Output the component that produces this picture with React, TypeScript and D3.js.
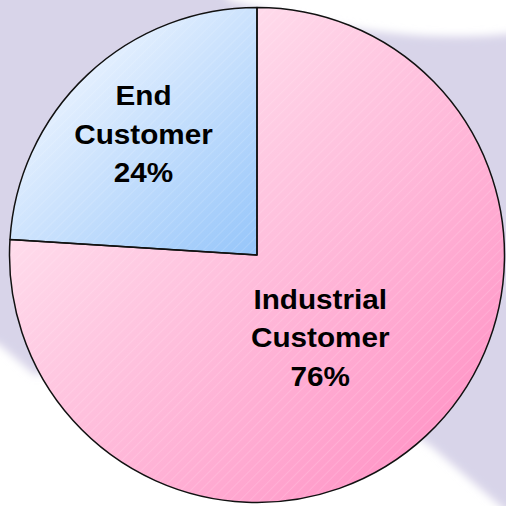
import React from "react";
import * as d3 from "d3";

const categories = ["Industrial Customer", "End Customer"];
const labelLines = [["Industrial", "Customer", "76%"], ["End", "Customer", "24%"]];
const values = [76, 24];

const W = 506;
const H = 506;
const CX = 257;
const CY = 255;
const R = 247.5;

const gradStops = [
  ["#fff3f8", "#ff8fc3"],
  ["#f2f7ff", "#95c5fa"],
];

export default function App() {
  const pie = d3.pie<number>().sort(null).value((d) => d);
  const arcs = pie(values);
  const arc = d3.arc<d3.PieArcDatum<number>>().innerRadius(0).outerRadius(R);
  const labelR = [0.42, 0.67];
  const labelAngleShift = [0.1, 0];
  const fontSize = 27;
  const lineH = 38.5;

  // gradient extents, relative to pie centre
  const bbox = [
    { x1: -R, y1: -R * 0.9, x2: R * 0.8, y2: R * 0.95 },
    { x1: -R * 0.85, y1: -R * 0.85, x2: 0, y2: 0 },
  ];

  return (
    <svg
      width={W}
      height={H}
      style={{ position: "fixed", left: 0, top: 0, display: "block", background: "#ffffff" }}
    >
      <defs>
        <filter id="soft" x="-10%" y="-10%" width="120%" height="120%">
          <feGaussianBlur stdDeviation="4" />
        </filter>
        {gradStops.map((g, i) => (
          <linearGradient
            key={i}
            id={`g${i}`}
            gradientUnits="userSpaceOnUse"
            x1={bbox[i].x1}
            y1={bbox[i].y1}
            x2={bbox[i].x2}
            y2={bbox[i].y2}
          >
            <stop offset="0" stopColor={g[0]} />
            <stop offset="1" stopColor={g[1]} />
          </linearGradient>
        ))}
        <pattern id="hatch" width="7" height="7" patternUnits="userSpaceOnUse" patternTransform="rotate(45)">
          <line x1="0" y1="0" x2="0" y2="7" stroke="#ffffff" strokeWidth="0.8" strokeOpacity="0.35" />
        </pattern>
      </defs>

      <path
        d="M-30,-30 L215,-30 L228,0 C300,20 420,50 540,30 L540,540 L432,447 L250,320 L35,375 L0,345 L-30,330 Z"
        fill="#d8d4e9"
        filter="url(#soft)"
      />

      <g transform={`translate(${CX},${CY})`}>
        {arcs.map((a, i) => {
          const d = arc(a) || "";
          return (
            <g key={categories[i]}>
              <path d={d} fill={`url(#g${i})`} />
              <path d={d} fill="url(#hatch)" />
            </g>
          );
        })}
        {arcs.map((a, i) => (
          <path
            key={"o" + i}
            d={arc(a) || ""}
            fill="none"
            stroke="#111111"
            strokeWidth={1.5}
            strokeLinejoin="round"
          />
        ))}
      </g>

      {arcs.map((a, i) => {
        const mid = (a.startAngle + a.endAngle) / 2 + labelAngleShift[i];
        const rr = R * labelR[i];
        const x = CX + rr * Math.sin(mid);
        const y = CY - rr * Math.cos(mid);
        const lines = labelLines[i];
        return (
          <text
            key={"t" + i}
            transform={`translate(${x},${y}) scale(1.1,1)`}
            textAnchor="middle"
            fontFamily="'Liberation Sans', Arial, sans-serif"
            fontWeight="bold"
            fontSize={fontSize}
            fill="#000000"
          >
            {lines.map((l, j) => (
              <tspan key={j} x={0} y={(j - (lines.length - 1) / 2) * lineH + fontSize * 0.36}>
                {l}
              </tspan>
            ))}
          </text>
        );
      })}
    </svg>
  );
}
